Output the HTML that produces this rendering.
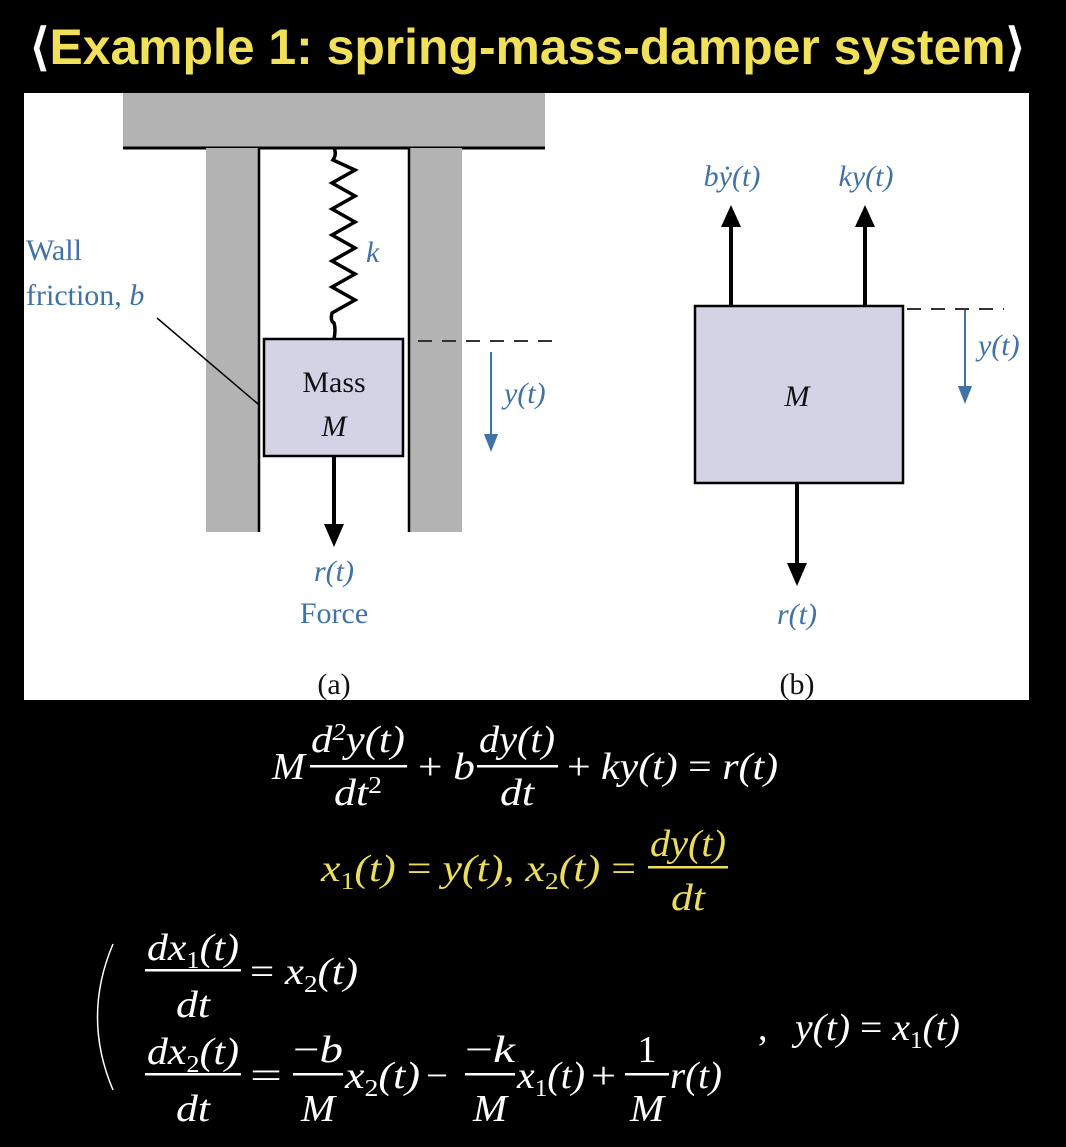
<!DOCTYPE html>
<html><head><meta charset="utf-8"><style>
html,body{margin:0;padding:0;background:#000;}
svg{display:block;}
.s{font-family:"Liberation Serif",serif;}
.i{font-family:"Liberation Serif",serif;font-style:italic;}
.b{fill:#3f72a6;}
.w{fill:#fff;}
.y{fill:#ecdc5c;}
</style></head><body>
<svg width="1066" height="1147" viewBox="0 0 1066 1147" xmlns="http://www.w3.org/2000/svg">
<rect width="1066" height="1147" fill="#000"/>
<text x="30" y="64" font-family="Liberation Sans, sans-serif" font-size="50" font-weight="bold" fill="#f0e05a" textLength="995" lengthAdjust="spacingAndGlyphs"><tspan fill="#fff">⟨</tspan>Example 1: spring-mass-damper system<tspan fill="#fff">⟩</tspan></text>

<rect x="24" y="93" width="1005" height="607" fill="#fff"/>
<rect x="123" y="93" width="422" height="55" fill="#b3b3b3"/>
<line x1="123" y1="148" x2="545" y2="148" stroke="#000" stroke-width="3"/>
<rect x="206" y="148" width="53" height="384" fill="#b3b3b3"/>
<rect x="409" y="148" width="53" height="384" fill="#b3b3b3"/>
<line x1="259" y1="148" x2="259" y2="532" stroke="#000" stroke-width="2.5"/>
<line x1="409" y1="148" x2="409" y2="532" stroke="#000" stroke-width="2.5"/>
<path d="M334 148 q3 6 -1 12 L355 170 L332 183 L355 196 L332 209 L355 222 L332 235 L355 248 L332 261 L355 274 L332 287 L355 300 L332 313 q-2 8 2 10 q2 6 0 16" fill="none" stroke="#000" stroke-width="3.5"/>
<text x="366" y="262" class="i b" font-size="30">k</text>
<rect x="264" y="339" width="139" height="117" fill="#d4d3e6" stroke="#000" stroke-width="2.5"/>
<text x="334" y="392" class="s" font-size="30" text-anchor="middle" fill="#111">Mass</text>
<text x="334" y="436" class="i" font-size="30" text-anchor="middle" fill="#111">M</text>
<text x="26" y="260" class="s b" font-size="30">Wall</text>
<text x="26" y="305" class="s b" font-size="30">friction, <tspan class="i">b</tspan></text>
<line x1="157" y1="318" x2="258" y2="404" stroke="#000" stroke-width="1.5"/>
<line x1="418" y1="341" x2="555" y2="341" stroke="#333" stroke-width="2" stroke-dasharray="14,10"/>
<line x1="491" y1="352" x2="491" y2="436" stroke="#3f72a6" stroke-width="2"/>
<polygon points="484,434 498,434 491,452" fill="#3f72a6"/>
<text x="504" y="403" class="i b" font-size="30">y(t)</text>
<line x1="334" y1="456" x2="334" y2="526" stroke="#000" stroke-width="4"/>
<polygon points="324,524 344,524 334,547" fill="#000"/>
<text x="334" y="581" class="i b" font-size="30" text-anchor="middle">r(t)</text>
<text x="334" y="623" class="s b" font-size="30" text-anchor="middle">Force</text>
<text x="334" y="694" class="s" font-size="30" text-anchor="middle" fill="#111">(a)</text>

<rect x="695" y="306" width="208" height="177" fill="#d4d3e6" stroke="#000" stroke-width="2.5"/>
<text x="797" y="406" class="i" font-size="30" text-anchor="middle" fill="#111">M</text>
<line x1="731" y1="306" x2="731" y2="225" stroke="#000" stroke-width="4"/>
<polygon points="721,227 741,227 731,205" fill="#000"/>
<line x1="865" y1="306" x2="865" y2="225" stroke="#000" stroke-width="4"/>
<polygon points="855,227 875,227 865,205" fill="#000"/>
<text x="732" y="186" class="i b" font-size="30" text-anchor="middle">bẏ(t)</text>
<text x="866" y="186" class="i b" font-size="30" text-anchor="middle">ky(t)</text>
<line x1="907" y1="309" x2="1004" y2="309" stroke="#333" stroke-width="2" stroke-dasharray="14,10"/>
<line x1="965" y1="310" x2="965" y2="388" stroke="#3f72a6" stroke-width="2"/>
<polygon points="958,386 972,386 965,404" fill="#3f72a6"/>
<text x="978" y="355" class="i b" font-size="30">y(t)</text>
<line x1="797" y1="483" x2="797" y2="565" stroke="#000" stroke-width="4"/>
<polygon points="787,563 807,563 797,586" fill="#000"/>
<text x="797" y="624" class="i b" font-size="30" text-anchor="middle">r(t)</text>
<text x="797" y="694" class="s" font-size="30" text-anchor="middle" fill="#111">(b)</text>

<g class="i w" font-size="38">
<text x="272" y="779" textLength="33" lengthAdjust="spacingAndGlyphs">M</text>
<text x="358" y="752" text-anchor="middle" textLength="94" lengthAdjust="spacingAndGlyphs">d<tspan font-size="24" dy="-12">2</tspan><tspan dy="12">y(t)</tspan></text>
<text x="358" y="805" text-anchor="middle" textLength="48" lengthAdjust="spacingAndGlyphs">dt<tspan font-size="24" dy="-12" font-style="normal">2</tspan></text>
<rect x="310" y="765" width="97" height="2.5" fill="#fff"/>
<text x="418" y="779" textLength="57" lengthAdjust="spacingAndGlyphs"><tspan font-style="normal">+</tspan> b</text>
<text x="517" y="752" text-anchor="middle" textLength="76" lengthAdjust="spacingAndGlyphs">dy(t)</text>
<text x="517" y="805" text-anchor="middle" textLength="34" lengthAdjust="spacingAndGlyphs">dt</text>
<rect x="477" y="765" width="81" height="2.5" fill="#fff"/>
<text x="567" y="779" textLength="211" lengthAdjust="spacingAndGlyphs"><tspan font-style="normal">+</tspan> ky(t) <tspan font-style="normal">=</tspan> r(t)</text>
</g>
<g class="i y" font-size="38">
<text x="321" y="881" textLength="315" lengthAdjust="spacingAndGlyphs">x<tspan font-size="24" dy="8" font-style="normal">1</tspan><tspan dy="-8">(t) </tspan><tspan font-style="normal">=</tspan> y(t),   x<tspan font-size="24" dy="8" font-style="normal">2</tspan><tspan dy="-8">(t) </tspan><tspan font-style="normal">=</tspan></text>
<text x="688" y="856" text-anchor="middle" textLength="76" lengthAdjust="spacingAndGlyphs">dy(t)</text>
<text x="688" y="910" text-anchor="middle" textLength="34" lengthAdjust="spacingAndGlyphs">dt</text>
<rect x="648" y="866" width="80" height="2.5" fill="#ecdc5c"/>
</g>
<path d="M113 944 Q82 1017 113 1090" fill="none" stroke="#fff" stroke-width="1.5"/>
<g class="i w" font-size="38">
<text x="193" y="960" text-anchor="middle" textLength="92" lengthAdjust="spacingAndGlyphs">dx<tspan font-size="24" dy="8" font-style="normal">1</tspan><tspan dy="-8">(t)</tspan></text>
<text x="193" y="1017" text-anchor="middle" textLength="34" lengthAdjust="spacingAndGlyphs">dt</text>
<rect x="145" y="969" width="96" height="2.5" fill="#fff"/>
<text x="250" y="984" textLength="108" lengthAdjust="spacingAndGlyphs"><tspan font-style="normal">=</tspan> x<tspan font-size="24" dy="8" font-style="normal">2</tspan><tspan dy="-8">(t)</tspan></text>

<text x="193" y="1064" text-anchor="middle" textLength="92" lengthAdjust="spacingAndGlyphs">dx<tspan font-size="24" dy="8" font-style="normal">2</tspan><tspan dy="-8">(t)</tspan></text>
<text x="193" y="1121" text-anchor="middle" textLength="34" lengthAdjust="spacingAndGlyphs">dt</text>
<rect x="145" y="1073" width="96" height="2.5" fill="#fff"/>
<text x="250" y="1088" font-style="normal" textLength="32" lengthAdjust="spacingAndGlyphs">=</text>
<text x="318" y="1062" text-anchor="middle" textLength="50" lengthAdjust="spacingAndGlyphs"><tspan font-style="normal">−</tspan>b</text>
<text x="318" y="1121" text-anchor="middle" textLength="34" lengthAdjust="spacingAndGlyphs">M</text>
<rect x="293" y="1073" width="50" height="2.5" fill="#fff"/>
<text x="345" y="1088" textLength="75" lengthAdjust="spacingAndGlyphs">x<tspan font-size="24" dy="8" font-style="normal">2</tspan><tspan dy="-8">(t)</tspan></text>
<text x="426" y="1088" font-style="normal" textLength="22" lengthAdjust="spacingAndGlyphs">−</text>
<text x="490" y="1062" text-anchor="middle" textLength="50" lengthAdjust="spacingAndGlyphs"><tspan font-style="normal">−</tspan>k</text>
<text x="490" y="1121" text-anchor="middle" textLength="34" lengthAdjust="spacingAndGlyphs">M</text>
<rect x="465" y="1073" width="50" height="2.5" fill="#fff"/>
<text x="517" y="1088" textLength="68" lengthAdjust="spacingAndGlyphs">x<tspan font-size="24" dy="8" font-style="normal">1</tspan><tspan dy="-8">(t)</tspan></text>
<text x="591" y="1088" font-style="normal" textLength="25" lengthAdjust="spacingAndGlyphs">+</text>
<text x="647" y="1062" text-anchor="middle" font-style="normal">1</text>
<text x="647" y="1121" text-anchor="middle" textLength="34" lengthAdjust="spacingAndGlyphs">M</text>
<rect x="625" y="1073" width="44" height="2.5" fill="#fff"/>
<text x="670" y="1088" textLength="52" lengthAdjust="spacingAndGlyphs">r(t)</text>
<text x="758" y="1040" font-style="normal">,</text>
<text x="795" y="1040" textLength="165" lengthAdjust="spacingAndGlyphs">y(t) <tspan font-style="normal">=</tspan> x<tspan font-size="24" dy="8" font-style="normal">1</tspan><tspan dy="-8">(t)</tspan></text>
</g>
</svg>
</body></html>
